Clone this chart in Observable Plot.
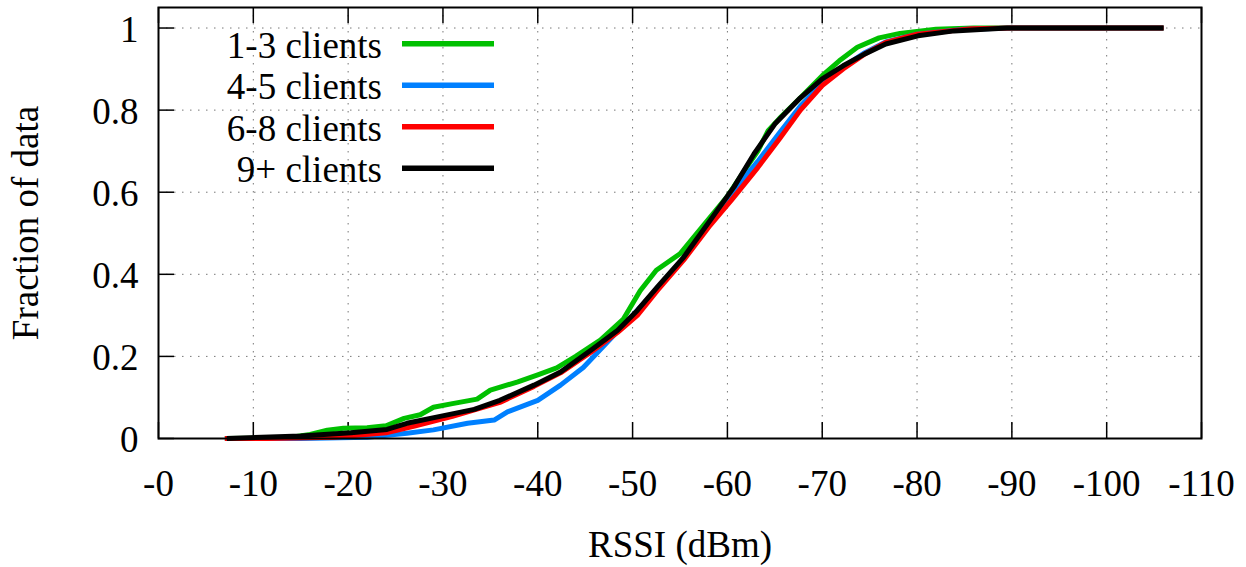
<!DOCTYPE html>
<html><head><meta charset="utf-8">
<script src="https://cdn.jsdelivr.net/npm/d3@7"></script>
<script src="https://cdn.jsdelivr.net/npm/@observablehq/plot@0.6"></script>
<style>body{margin:0;background:#fff}</style>
</head><body><div id="chart"></div>
<script>
const seriesNames = ["1-3 clients", "4-5 clients", "6-8 clients", "9+ clients"];
const seriesColors = ["#00c000", "#0080ff", "#ff0000", "#000000"];

const xTicks = [0, -10, -20, -30, -40, -50, -60, -70, -80, -90, -100, -110];
const xTickLabels = ["-0", "-10", "-20", "-30", "-40", "-50", "-60", "-70", "-80", "-90", "-100", "-110"];
const yTicks = [0, 0.2, 0.4, 0.6, 0.8, 1];
const yTickLabels = ["0", "0.2", "0.4", "0.6", "0.8", "1"];

// 1-3 clients
const rssi13 = [-7, -12, -14, -16, -17.8, -19.5, -22, -24, -25.9, -27.6, -29, -31, -33.6, -35, -37.9, -40, -42, -44, -46.6, -49, -50.8, -52.5, -55, -57.5, -60, -62, -63.2, -64.3, -65.5, -67.7, -70, -71.8, -73.7, -76, -78.2, -82, -86, -106];
const frac13 = [0, 0.001, 0.003, 0.01, 0.02, 0.025, 0.026, 0.031, 0.049, 0.058, 0.076, 0.085, 0.096, 0.118, 0.138, 0.155, 0.172, 0.2, 0.24, 0.29, 0.36, 0.41, 0.45, 0.52, 0.59, 0.66, 0.70, 0.75, 0.78, 0.83, 0.884, 0.92, 0.953, 0.976, 0.987, 0.997, 1, 1];
// 4-5 clients
const rssi45 = [-7, -15, -22, -26.2, -29, -32.6, -35.4, -36.8, -40, -42.4, -44.8, -47.4, -50, -52.6, -55.4, -58, -60.5, -63.2, -65.5, -67.7, -70, -72.2, -74.5, -76.7, -80, -85, -90, -106];
const frac45 = [0, 0, 0.003, 0.013, 0.021, 0.037, 0.045, 0.065, 0.093, 0.13, 0.173, 0.236, 0.3, 0.365, 0.44, 0.52, 0.6, 0.675, 0.745, 0.81, 0.865, 0.905, 0.94, 0.966, 0.985, 0.997, 1, 1];
// 6-8 clients
const rssi68 = [-7, -11.5, -18.5, -24, -27, -31, -36, -39.6, -42.4, -45.6, -48.4, -50.5, -52.6, -55.4, -58.2, -60.4, -63.2, -65.5, -67.7, -70, -72.2, -74.5, -76.7, -80, -85.7, -90, -106];
const frac68 = [0, 0, 0.003, 0.014, 0.03, 0.054, 0.088, 0.127, 0.16, 0.21, 0.258, 0.3, 0.36, 0.435, 0.52, 0.58, 0.66, 0.73, 0.80, 0.86, 0.90, 0.937, 0.965, 0.985, 0.998, 1, 1];
// 9+ clients
const rssi9p = [-7.2, -15, -20.3, -24.1, -26.2, -29.7, -33.3, -36, -39.6, -42.4, -45.6, -48.4, -50.5, -52.6, -55.4, -58.2, -60.7, -62.8, -65, -67.7, -70, -72.2, -74.5, -76.7, -80.1, -83.9, -89.5, -106];
const frac9p = [0, 0.006, 0.014, 0.022, 0.037, 0.054, 0.071, 0.093, 0.13, 0.162, 0.215, 0.263, 0.312, 0.369, 0.442, 0.532, 0.613, 0.693, 0.766, 0.83, 0.876, 0.908, 0.937, 0.961, 0.981, 0.993, 1.0, 1];

const seriesX = [rssi13, rssi45, rssi68, rssi9p];
const seriesY = [frac13, frac45, frac68, frac9p];
const data = seriesNames.flatMap((name, i) => seriesX[i].map((x, j) => ({series: name, rssi: x, frac: seriesY[i][j]})));

const W = 1246, H = 567, mL = 158, mR = 45, mT = 7, mB = 129;
const plotW = W - mL - mR, plotH = H - mT - mB;
const tick = 16;

const chart = Plot.plot({
  width: W, height: H,
  marginLeft: mL, marginRight: mR, marginTop: mT, marginBottom: mB,
  style: {fontFamily: "'Liberation Serif', 'Times New Roman', serif", fontSize: "37px", background: "white", color: "black"},
  x: {domain: [0, -110], axis: null},
  y: {domain: [0, 1.05], axis: null},
  color: {domain: seriesNames, range: seriesColors},
  marks: [
    Plot.gridX(xTicks.slice(1, -1), {stroke: "#777", strokeOpacity: 1, strokeWidth: 1, strokeDasharray: "1.5,6.5"}),
    Plot.gridY(yTicks.slice(1), {stroke: "#777", strokeOpacity: 1, strokeWidth: 1, strokeDasharray: "1.5,6.5"}),
    Plot.tickX(xTicks, {x: d => d, insetTop: plotH - tick, stroke: "black", strokeWidth: 1.5}),
    Plot.tickX(xTicks, {x: d => d, insetBottom: plotH - tick, stroke: "black", strokeWidth: 1.5}),
    Plot.tickY(yTicks, {y: d => d, insetRight: plotW - tick, stroke: "black", strokeWidth: 1.5}),
    Plot.axisX(xTicks, {tickSize: 0, tickPadding: 31, tickFormat: d => xTickLabels[xTicks.indexOf(d)], label: null}),
    Plot.axisY(yTicks, {tickSize: 0, tickPadding: 20, dy: 2, tickFormat: d => yTickLabels[yTicks.indexOf(d)], label: null}),
    Plot.line(data, {x: "rssi", y: "frac", z: "series", stroke: "series", strokeWidth: 5, strokeLinecap: "butt", strokeLinejoin: "round"}),
    Plot.frame({stroke: "black", strokeWidth: 2}),
    Plot.text(["RSSI (dBm)"], {frameAnchor: "bottom", lineAnchor: "middle", textAnchor: "middle", dy: 107}),
    Plot.text(["Fraction of data"], {frameAnchor: "left", rotate: -90, textAnchor: "middle", lineAnchor: "middle", dx: -132})
  ]
});

const svg = d3.select(chart);
const lg = svg.append("g").attr("class", "legend");
seriesNames.forEach((name, i) => {
  const y = 43.7 + i * 41.5;
  lg.append("text").attr("x", 382).attr("y", y + 14).attr("text-anchor", "end").attr("fill", "black").text(name);
  lg.append("line").attr("x1", 402).attr("x2", 494).attr("y1", y).attr("y2", y)
    .attr("stroke", seriesColors[i]).attr("stroke-width", 5.5);
});

document.getElementById("chart").append(chart);
</script>
</body></html>
